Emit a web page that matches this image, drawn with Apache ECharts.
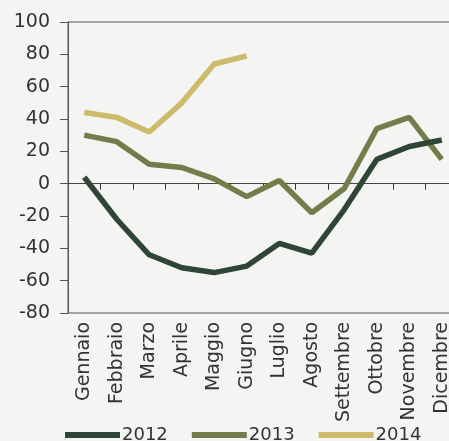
<!DOCTYPE html>
<html>
<head>
<meta charset="utf-8">
<script src="https://cdn.jsdelivr.net/npm/echarts@6/dist/echarts.min.js"></script>
<style>
  html, body { margin: 0; padding: 0; background: #f4f5f2; }
  #chart { width: 449px; height: 441px; }
</style>
</head>
<body>
<div id="chart"></div>
<script>
// months on the x axis
const months = ['Gennaio', 'Febbraio', 'Marzo', 'Aprile', 'Maggio', 'Giugno',
  'Luglio', 'Agosto', 'Settembre', 'Ottobre', 'Novembre', 'Dicembre'];
// values
const data2012 = [4, -22, -44, -52, -55, -51, -37, -43, -16, 15, 23, 27];
const data2013 = [30, 26, 12, 10, 3, -8, 2, -18, -3, 34, 41, 15];
const data2014 = [44, 41, 32, 50, 74, 79];
const yearNames = ['2012', '2013', '2014'];
const yTicks = { min: -80, max: 100, step: 20 };

const font = 'DejaVu Sans';
const colors = ['#2f4536', '#737d4b', '#cdbb6c'];

const myChart = echarts.init(document.getElementById('chart'));

// plot box; the zero line sits where 0 falls on the y scale
const plotTop = 22, plotHeight = 291;
const zeroOffset = plotHeight * yTicks.max / (yTicks.max - yTicks.min);

const option = {
  backgroundColor: '#f4f5f2',
  animation: false,
  color: colors,
  grid: [
    {
      left: 68, top: plotTop, width: 390, height: plotHeight,
      outerBoundsMode: 'none', containLabel: false,
      show: true, borderColor: '#555', borderWidth: 1, backgroundColor: 'transparent'
    },
    {
      // thin strip just under the zero line, used for the small ticks
      left: 68, top: plotTop + zeroOffset, width: 390, height: 6,
      outerBoundsMode: 'none', containLabel: false
    }
  ],
  legend: {
    data: yearNames, left: 65, top: 426, padding: 0,
    itemWidth: 55, itemHeight: 6, itemGap: 24, icon: 'rect',
    textStyle: { fontFamily: font, fontSize: 18, color: '#333', padding: [0, 0, 0, -3] }
  },
  xAxis: [
    {
      type: 'category', data: months, gridIndex: 0, position: 'bottom',
      axisLine: { show: false, onZero: false },
      axisTick: { show: false },
      axisLabel: { rotate: 90, interval: 0, margin: 9, fontFamily: font, fontSize: 19, color: '#333' }
    },
    {
      type: 'category', data: months, gridIndex: 1, position: 'top',
      axisLine: { show: true, onZero: false, lineStyle: { color: '#444', width: 1 } },
      axisTick: { show: false },
      axisLabel: { show: false },
      splitLine: { show: true, interval: 0, lineStyle: { color: '#333', width: 1 } }
    }
  ],
  yAxis: [
    {
      type: 'value', gridIndex: 0,
      min: yTicks.min, max: yTicks.max, interval: yTicks.step,
      axisLine: { show: true, lineStyle: { color: '#555' } },
      axisTick: { show: true, length: 8, lineStyle: { color: '#555' } },
      splitLine: { show: false },
      axisLabel: { margin: 18, fontFamily: font, fontSize: 19, color: '#333' }
    },
    { type: 'value', gridIndex: 1, show: false, splitLine: { show: false } }
  ],
  series: [
    { name: '2012', type: 'line', data: data2012, showSymbol: false, lineStyle: { width: 5.5 }, z: 3 },
    { name: '2013', type: 'line', data: data2013, showSymbol: false, lineStyle: { width: 5.5 }, z: 2 },
    { name: '2014', type: 'line', data: data2014, showSymbol: false, lineStyle: { width: 5.5 }, z: 2 }
  ]
};

myChart.setOption(option);
</script>
</body>
</html>
